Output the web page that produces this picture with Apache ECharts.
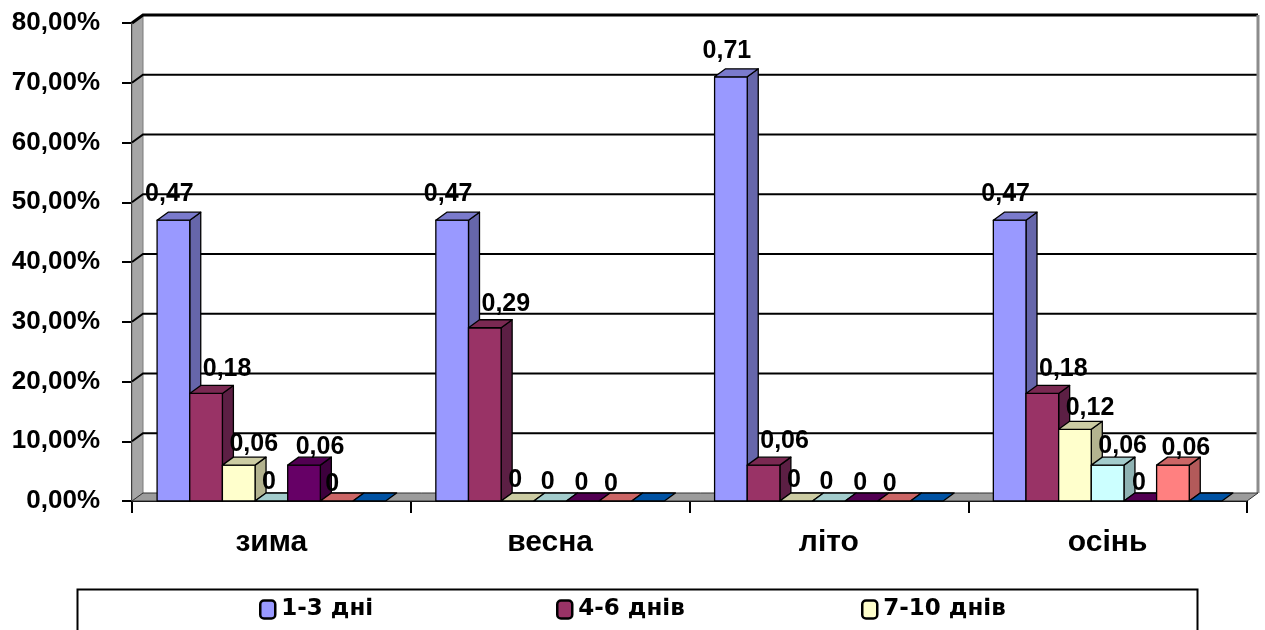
<!DOCTYPE html>
<html>
<head>
<meta charset="utf-8">
<script src="https://cdn.jsdelivr.net/npm/echarts@6/dist/echarts.min.js"></script>
<style>
  html, body { margin: 0; padding: 0; background: #ffffff; }
  #chart { width: 1265px; height: 630px; }
</style>
</head>
<body>
<div id="chart"></div>
<script>
// Seasons on the category axis
const categories = ['зима', 'весна', 'літо', 'осінь'];

// Legend entries
const legendNames = ['1-3 дні', '4-6 днів', '7-10 днів'];

// Shares per duration group, one array per group (season order as above)
const s1 = [0.47, 0.47, 0.71, 0.47];
const s2 = [0.18, 0.29, 0.06, 0.18];
const s3 = [0.06, 0, 0, 0.12];
const s4 = [0, 0, 0, 0.06];
const s5 = [0.06, 0, 0, 0];
const s6 = [0, 0, 0, 0.06];
const s7 = [0, 0, 0, 0];
const seriesValues = [s1, s2, s3, s4, s5, s6, s7];
const labelled = [true, true, true, true, true, true, false];

// Value axis ticks
const yTicks = [0, 0.1, 0.2, 0.3, 0.4, 0.5, 0.6, 0.7, 0.8];

// Face colours: front, top and right side of each column
const FRONT = ['#9999FF', '#993366', '#FFFFCC', '#CCFFFF', '#660066', '#FF8080', '#0066CC'];
const TOP   = ['#7A7ACC', '#7A2952', '#CCCCA3', '#A3CCCC', '#520052', '#CC6666', '#0052A3'];
const SIDE  = ['#6666AA', '#5C1F44', '#B3B38F', '#8FB3B3', '#3D003D', '#B35A5A', '#00478F'];

// Value label placement per group: left edge offset from the column, height above its top
const LABEL_DX = [-12, 13, 7, 7, 8, 5, 0];
const LABEL_DY = [-26, -24, -21, -19, -18, -17, 0];

const DEPTH_X = 11;     // oblique depth offset to the right
const DEPTH_Y = 8;      // oblique depth offset upwards
const CAT_PAD = 0.09;   // empty share at each side of a category
const N = seriesValues.length;

const fmtValue = v => String(v).replace('.', ',');
const fmtPercent = v => (v * 100).toFixed(2).replace('.', ',') + '%';

// Walls, floor and gridlines of the 3D box
function frameRenderer(params, api) {
  const cs = params.coordSys;
  const left = cs.x, right = cs.x + cs.width;
  const dx = DEPTH_X, dy = DEPTH_Y;
  const y0 = api.coord([0, 0])[1];
  const yMax = api.coord([0, yTicks[yTicks.length - 1]])[1];
  const children = [];
  children.push({
    type: 'polygon', z2: 1,
    shape: { points: [[left, yMax], [left + dx, yMax - dy], [left + dx, y0 - dy], [left, y0]] },
    style: { fill: '#A6A6A6', stroke: '#7a7a7a', lineWidth: 1 }
  });
  yTicks.forEach(v => {
    if (v === 0) return;
    const y = api.coord([0, v])[1];
    children.push({
      type: 'polyline', z2: 2,
      shape: { points: [[left, y], [left + dx, y - dy], [right + dx, y - dy]] },
      style: { stroke: '#000', lineWidth: v === yTicks[yTicks.length - 1] ? 3 : 2, fill: null }
    });
  });
  children.push({
    type: 'line', z2: 2,
    shape: { x1: right + dx, y1: yMax - dy, x2: right + dx, y2: y0 - dy },
    style: { stroke: '#8c8c8c', lineWidth: 3 }
  });
  children.push({
    type: 'polygon', z2: 3,
    shape: { points: [[left, y0], [left + dx, y0 - dy], [right + dx, y0 - dy], [right, y0]] },
    style: { fill: '#9C9C9C', stroke: '#333', lineWidth: 1 }
  });
  return { type: 'group', children };
}

// One 3D column per data item
function barRenderer(sIdx) {
  return function (params, api) {
    const cat = api.value(0), val = api.value(1);
    const catW = api.size([1, 0])[0];
    const base = api.coord([cat, 0]);
    const pad = catW * CAT_PAD;
    const pitch = (catW - 2 * pad) / N;
    const L = base[0] - catW / 2 + pad + sIdx * pitch;
    const R = L + pitch;
    const yB = base[1];
    const yT = api.coord([cat, val])[1];
    const dx = DEPTH_X, dy = DEPTH_Y;
    const edge = { stroke: '#000', lineWidth: 1.3, lineJoin: 'round' };
    const children = [];
    if (yB - yT > 0.5) {
      children.push({
        type: 'polygon', z2: 10 + sIdx * 4,
        shape: { points: [[R, yT], [R + dx, yT - dy], [R + dx, yB - dy], [R, yB]] },
        style: Object.assign({ fill: SIDE[sIdx] }, edge)
      });
      children.push({
        type: 'rect', z2: 11 + sIdx * 4,
        shape: { x: L, y: yT, width: pitch, height: yB - yT },
        style: Object.assign({ fill: FRONT[sIdx] }, edge)
      });
    }
    children.push({
      type: 'polygon', z2: 12 + sIdx * 4,
      shape: { points: [[L, yT], [L + dx, yT - dy], [R + dx, yT - dy], [R, yT]] },
      style: Object.assign({ fill: TOP[sIdx] }, edge)
    });
    if (labelled[sIdx]) {
      children.push({
        type: 'text', z2: 100,
        x: L + LABEL_DX[sIdx], y: yT + LABEL_DY[sIdx],
        style: {
          text: fmtValue(val), fill: '#000',
          fontFamily: '"Liberation Sans", Arial, sans-serif', fontSize: 25, fontWeight: 'bold',
          align: 'left', verticalAlign: 'middle'
        }
      });
    }
    return { type: 'group', children };
  };
}

const series = [{
  type: 'custom',
  z: 1,
  silent: true,
  renderItem: frameRenderer,
  data: [[0, 0]],
  encode: { x: 0, y: 1 }
}];
seriesValues.forEach((vals, i) => {
  series.push({
    type: 'custom',
    name: legendNames[i],
    z: 2,
    itemStyle: { color: FRONT[i] },
    renderItem: barRenderer(i),
    data: vals.map((v, c) => [c, v]),
    encode: { x: 0, y: 1 }
  });
});

const legendFont = { fontFamily: '"DejaVu Sans", Verdana, sans-serif', fontWeight: 'bold', fontSize: 23, color: '#000' };
const legendLefts = [259, 556, 861];
const legends = legendNames.map((name, i) => ({
  data: [name],
  left: legendLefts[i],
  top: 598,
  icon: 'roundRect',
  itemWidth: 15,
  itemHeight: 18,
  itemGap: 0,
  padding: 0,
  itemStyle: { borderColor: '#000', borderWidth: 2.5 },
  textStyle: Object.assign({ padding: [0, 0, 0, 1] }, legendFont),
  selectedMode: false
}));

const chart = echarts.init(document.getElementById('chart'), null, { renderer: 'canvas' });
chart.setOption({
  animation: false,
  backgroundColor: '#ffffff',
  grid: { left: 132, right: 18, top: 23, bottom: 129, containLabel: false },
  xAxis: {
    type: 'category',
    data: categories,
    boundaryGap: true,
    axisLine: { show: true, lineStyle: { color: '#000', width: 2 } },
    axisTick: { show: true, length: 12, alignWithLabel: false, lineStyle: { color: '#000', width: 2 } },
    axisLabel: {
      margin: 27, color: '#000',
      fontFamily: '"Liberation Sans", Arial, sans-serif', fontWeight: 'bold', fontSize: 30
    },
    splitLine: { show: false }
  },
  yAxis: {
    type: 'value',
    min: 0, max: 0.8, interval: 0.1,
    axisLine: { show: true, lineStyle: { color: '#000', width: 2 } },
    axisTick: { show: true, length: 10, lineStyle: { color: '#000', width: 2 } },
    axisLabel: {
      margin: 32, color: '#000',
      fontFamily: '"Liberation Sans", Arial, sans-serif', fontWeight: 'bold', fontSize: 26,
      formatter: fmtPercent
    },
    splitLine: { show: false }
  },
  legend: legends,
  graphic: [{
    type: 'rect',
    left: 75, top: 587,
    shape: { width: 1120, height: 60 },
    style: { fill: 'none', stroke: '#000', lineWidth: 2 },
    silent: true
  }],
  series: series
});
</script>
</body>
</html>
